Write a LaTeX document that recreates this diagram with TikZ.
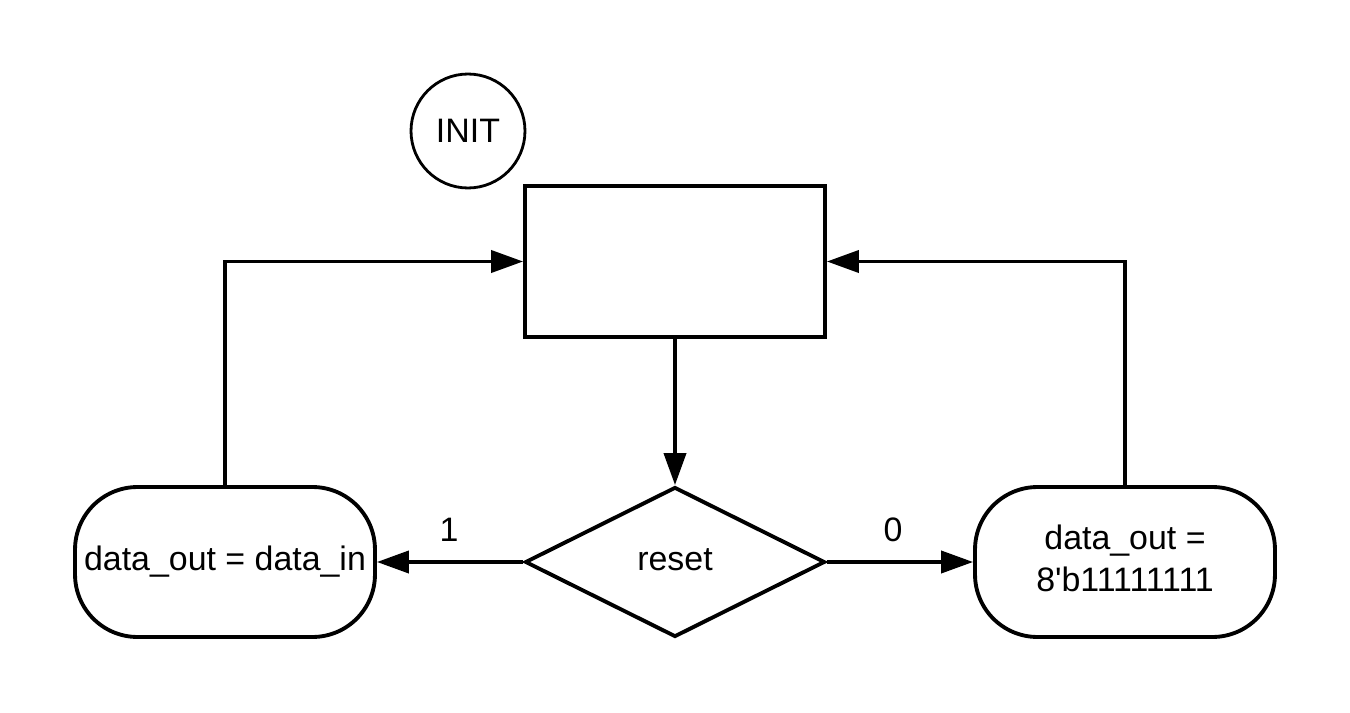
\documentclass[tikz,border=0pt]{standalone}
\usepackage{fontspec}
\setmainfont{Liberation Sans}
\usetikzlibrary{shapes.geometric,arrows.meta}
\begin{document}
\begin{tikzpicture}[x=0.02cm,y=-0.02cm,
  every node/.style={font=\fontsize{19.3}{24}\selectfont},
  border/.style={draw=black,line width=2.2pt},
  statebox/.style={border,rectangle,minimum width=6cm,minimum height=3.02cm,inner sep=0pt},
  actionbox/.style={border,rectangle,rounded corners=1.25cm,minimum width=6cm,minimum height=3cm,inner sep=0pt},
  decision/.style={border,diamond,minimum width=6cm,minimum height=3cm,inner sep=0pt},
  initcircle/.style={draw=black,line width=1.6pt,circle,minimum size=2.28cm,inner sep=0pt},
  flow/.style={line width=2.2pt,-{Triangle[length=0.64cm,width=0.44cm]}},
  plaintext/.style={inner sep=0pt,align=center}
]
\useasboundingbox (0,0) rectangle (1350,713);

% shapes
\node[initcircle] (init) at (468,131) {INIT};
\node[statebox] (state) at (675,261.5) {};
\node[decision] (reset) at (675,562) {};
\node[actionbox] (load) at (225,562) {};
\node[actionbox] (preset) at (1125,562) {};

% texts inside the shapes
\node[plaintext] (resettext) at (675,560) {reset};
\node[plaintext] (loadtext) at (225,562) {data\_out = data\_in};
\node[plaintext] (presettext) at (1125,558) {data\_out =\\8\textquotesingle b11111111};

% branch labels
\node[plaintext] (one) at (449,530) {1};
\node[plaintext] (zero) at (893,530) {0};

% connectors
\draw[flow] (state.south) -- (reset.north);
\draw[flow] (reset.west) -- (load.east);
\draw[flow] (reset.east) -- (preset.west);
\draw[flow] (load.north) |- (state.west);
\draw[flow] (preset.north) |- (state.east);
\end{tikzpicture}
\end{document}
